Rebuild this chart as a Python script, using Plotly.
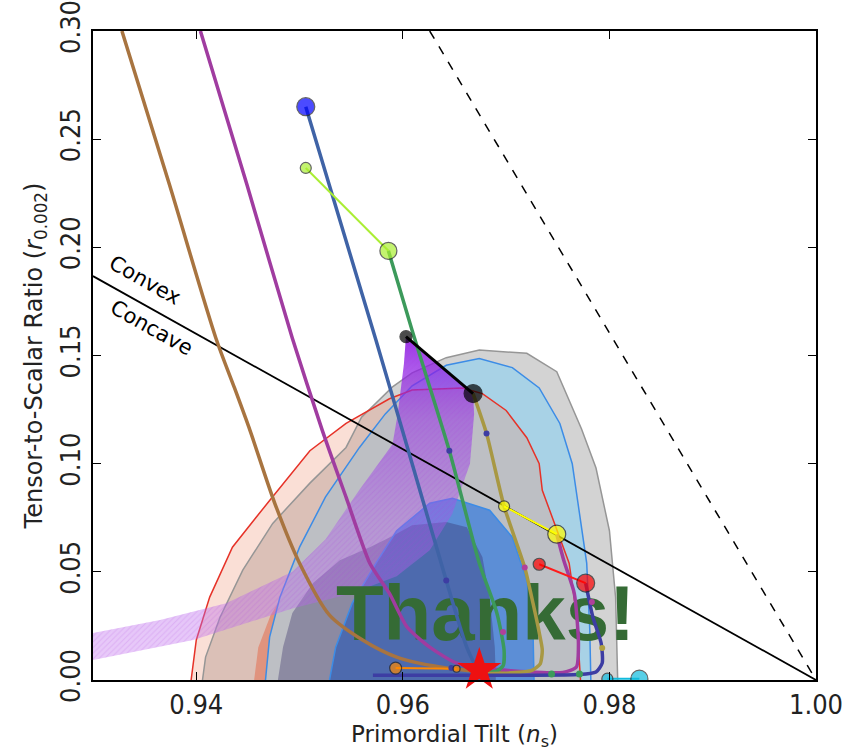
import plotly.graph_objects as go

# ---------------- data ----------------
# Planck-like confidence contours (ns, r)
gray95_ns = [0.9406, 0.9409, 0.9423, 0.9445, 0.9474, 0.9510, 0.9545, 0.9560, 0.9590, 0.9609, 0.9642, 0.9674,
             0.9720, 0.9749, 0.9773, 0.9787, 0.9800, 0.9806, 0.9808]
gray95_r = [0.0, 0.0106, 0.029, 0.0508, 0.0724, 0.091, 0.1075, 0.1215, 0.1355, 0.142, 0.149, 0.1525,
            0.151, 0.1425, 0.116, 0.098, 0.069, 0.038, 0.0]

red68_ns = [0.9456, 0.9460, 0.9472, 0.9495, 0.9530, 0.9570, 0.9610, 0.9650, 0.9690, 0.9720, 0.9740, 0.9750, 0.9755]
red68_r = [0.0, 0.015, 0.030, 0.048, 0.066, 0.080, 0.088, 0.089, 0.082, 0.066, 0.045, 0.022, 0.0]

blue95_ns = [0.9467, 0.9471, 0.9481, 0.9500, 0.9525, 0.9558, 0.9583, 0.9609, 0.9642, 0.9674, 0.9706, 0.9732,
             0.9752, 0.9764, 0.9771, 0.9778, 0.9781, 0.9782]
blue95_r = [0.0, 0.0198, 0.0383, 0.0614, 0.0845, 0.1075, 0.123, 0.136, 0.1455, 0.1486, 0.1444, 0.135,
            0.1186, 0.100, 0.077, 0.054, 0.023, 0.0]

red95_ns = [0.9395, 0.9400, 0.9413, 0.9435, 0.9471, 0.9510, 0.9545, 0.9587, 0.9609, 0.9658, 0.9677, 0.9700,
            0.9720, 0.9732, 0.9735, 0.9745, 0.9761, 0.9768, 0.9771, 0.9772]
red95_r = [0.0, 0.0185, 0.0383, 0.0614, 0.083, 0.106, 0.1186, 0.130, 0.134, 0.135, 0.1324, 0.1246,
           0.112, 0.100, 0.0877, 0.075, 0.054, 0.031, 0.0078, 0.0]

blue68_ns = [0.9529, 0.9535, 0.9551, 0.9574, 0.9594, 0.9626, 0.9648, 0.9684, 0.9706, 0.9720, 0.9726, 0.9727]
blue68_r = [0.0, 0.0152, 0.0355, 0.054, 0.069, 0.0817, 0.084, 0.0785, 0.066, 0.046, 0.023, 0.0]

gray68_ns = [0.9479, 0.9484, 0.9493, 0.9513, 0.9539, 0.9568, 0.9590, 0.9609, 0.9642, 0.9662, 0.9677, 0.9684,
             0.9689, 0.9690]
gray68_r = [0.0, 0.0152, 0.031, 0.0448, 0.0554, 0.0614, 0.0666, 0.0715, 0.073, 0.0706, 0.0568, 0.0383,
            0.0152, 0.0]

# purple (hatched) model band
band_ns = [0.9300, 0.9365, 0.9429, 0.9493, 0.9525, 0.9558, 0.9590, 0.9595, 0.9601, 0.9603,
           0.9668,
           0.9669, 0.9665, 0.9648, 0.9626, 0.9594, 0.9550, 0.9493, 0.9397, 0.9300]
band_r = [0.0217, 0.0277, 0.0355, 0.050, 0.065, 0.088, 0.109, 0.123, 0.146, 0.1587,
          0.1324,
          0.123, 0.100, 0.077, 0.060, 0.048, 0.040, 0.033, 0.0185, 0.0092]

# reference lines
dashed_ns = [0.9626, 1.00]
dashed_r = [0.30, 0.0]
convex_ns = [0.93, 1.00]
convex_r = [0.1867, 0.0]

# model curves
brown_ns = [0.9328, 0.9374, 0.9419, 0.9437, 0.9452, 0.9476, 0.9500, 0.9529, 0.9561, 0.9594, 0.9636, 0.9674, 0.9700]
brown_r = [0.300, 0.229, 0.158, 0.135, 0.1154, 0.0817, 0.054, 0.030, 0.0185, 0.0106, 0.0060, 0.0040, 0.0035]

magenta_ns = [0.9404, 0.9449, 0.9493, 0.9522, 0.9545, 0.9568, 0.9587, 0.9604, 0.9626, 0.9652, 0.9700, 0.9755,
              0.9768, 0.9770, 0.9766, 0.9756, 0.9749]
magenta_r = [0.300, 0.229, 0.158, 0.1154, 0.0845, 0.054, 0.040, 0.0245, 0.0152, 0.0078, 0.0045, 0.0035,
             0.006, 0.017, 0.040, 0.055, 0.0674]

blue_ns = [0.9506, 0.9574, 0.9609, 0.9642, 0.9662, 0.9672, 0.9685]
blue_r = [0.265, 0.157, 0.100, 0.046, 0.015, 0.006, 0.0035]

green_ns = [0.9586, 0.9609, 0.9645, 0.9674, 0.9691, 0.9698, 0.9697, 0.9690, 0.9675]
green_r = [0.1984, 0.1615, 0.106, 0.054, 0.031, 0.0138, 0.0065, 0.0040, 0.0035]

olive_ns = [0.9668, 0.9681, 0.9698, 0.9718, 0.9726, 0.9732, 0.9735, 0.9733, 0.9725, 0.9705, 0.9680]
olive_r = [0.1324, 0.114, 0.0803, 0.052, 0.0355, 0.022, 0.0138, 0.0075, 0.0045, 0.0033, 0.0030]

indigo_ns = [0.9777, 0.9784, 0.9792, 0.9793, 0.9787, 0.9770, 0.9720, 0.9650, 0.9571]
indigo_r = [0.0448, 0.029, 0.017, 0.0078, 0.0037, 0.0025, 0.0022, 0.0022, 0.0022]

# end-point pairs (small dot, big dot)
lime_ns, lime_r = [0.9506, 0.9586], [0.2367, 0.1984]
black_ns, black_r = [0.9603, 0.9668], [0.1587, 0.1324]
yellow_ns, yellow_r = [0.9698, 0.9749], [0.0803, 0.0674]
red_ns, red_r = [0.9732, 0.9777], [0.0535, 0.0448]
orange_ns, orange_r = [0.9593, 0.9652], [0.0055, 0.0052]
cyan_ns, cyan_r = [0.9798, 0.9829], [0.0006, 0.0006]
blue_dot_ns, blue_dot_r = [0.9506], [0.265]

# small tick dots along curves
navy_dot_ns = [0.9681, 0.9645, 0.9642, 0.9647]
navy_dot_r = [0.114, 0.106, 0.046, 0.0055]
mag_dot_ns = [0.9718, 0.9697, 0.9783]
mag_dot_r = [0.052, 0.0222, 0.036]
olive_dot_ns = [0.9793]
olive_dot_r = [0.0148]
green_dot_ns = [0.9744, 0.9771]
green_dot_r = [0.0028, 0.0028]

star_ns, star_r = [0.9674], [0.0046]
thanks_ns, thanks_r = [0.9680], [0.0275]

x_ticks = [0.94, 0.96, 0.98, 1.00]
x_ticktext = ["0.94", "0.96", "0.98", "1.00"]
y_ticks = [0.0, 0.05, 0.10, 0.15, 0.20, 0.25, 0.30]
y_ticktext = ["0.00", "0.05", "0.10", "0.15", "0.20", "0.25", "0.30"]

# ---------------- figure ----------------
fig = go.Figure()


def poly(xs, ys, fill, line=None, lw=1.5, **kw):
    fig.add_trace(go.Scatter(x=xs + [xs[0]], y=ys + [ys[0]], mode="lines", fill="toself",
                             fillcolor=fill,
                             line=dict(color=line if line else "rgba(0,0,0,0)", width=lw if line else 0),
                             hoverinfo="skip", showlegend=False, **kw))


def curve(xs, ys, color, width, **kw):
    fig.add_trace(go.Scatter(x=xs, y=ys, mode="lines", line=dict(color=color, width=width, **kw),
                             hoverinfo="skip", showlegend=False))


def dots(xs, ys, color, sizes, lw=1.2, lc="#222222", clip=True):
    fig.add_trace(go.Scatter(x=xs, y=ys, mode="markers", cliponaxis=clip,
                             marker=dict(color=color, size=sizes, line=dict(color=lc, width=lw)),
                             hoverinfo="skip", showlegend=False))


# contours
poly(gray95_ns, gray95_r, "rgb(211,211,211)")
poly(red68_ns, red68_r, "rgb(218,146,130)")
poly(blue95_ns, blue95_r, "rgb(168,210,230)")
poly(red95_ns, red95_r, "rgba(240,150,120,0.30)")
poly(blue68_ns, blue68_r, "rgb(92,142,214)")
poly(gray68_ns, gray68_r, "rgba(50,40,100,0.35)")
# contour outlines
curve(gray95_ns, gray95_r, "rgb(150,150,150)", 1.5)
curve(blue95_ns, blue95_r, "rgb(60,140,230)", 1.5)
curve(blue68_ns, blue68_r, "rgb(60,140,230)", 1.5)
curve(red95_ns, red95_r, "rgb(230,50,40)", 1.5)

# purple band with gradient and hatching
fig.add_trace(go.Scatter(x=band_ns + [band_ns[0]], y=band_r + [band_r[0]], mode="lines", fill="toself",
                         line=dict(width=0, color="rgba(0,0,0,0)"),
                         fillgradient=dict(type="vertical", start=0.0, stop=0.16,
                                           colorscale=[[0, "rgba(200,120,240,0.38)"],
                                                       [0.45, "rgba(170,90,235,0.40)"],
                                                       [0.75, "rgba(150,50,230,0.55)"],
                                                       [1, "rgba(135,10,225,0.85)"]]),
                         hoverinfo="skip", showlegend=False))
fig.add_trace(go.Scatter(x=band_ns + [band_ns[0]], y=band_r + [band_r[0]], mode="lines", fill="toself",
                         line=dict(width=0, color="rgba(0,0,0,0)"),
                         fillcolor="rgba(0,0,0,0)",
                         fillpattern=dict(shape="/", fgcolor="rgba(170,60,220,0.35)",
                                          bgcolor="rgba(0,0,0,0)", size=4, solidity=0.25),
                         hoverinfo="skip", showlegend=False))

# reference lines
curve(dashed_ns, dashed_r, "black", 1.5, dash="dash")
curve(convex_ns, convex_r, "black", 1.8)

# Thanks! text (below model curves)
fig.add_trace(go.Scatter(x=thanks_ns, y=thanks_r, mode="text", text=["Thanks!"],
                         textfont=dict(family="Liberation Sans, Arial, sans-serif", size=78,
                                       color="#356b35", weight="bold"),
                         textposition="middle center", hoverinfo="skip", showlegend=False))

# model curves
curve(brown_ns, brown_r, "#a87440", 3.5, shape="spline", smoothing=0.8)
curve(magenta_ns, magenta_r, "#a03ca0", 3.5, shape="spline", smoothing=0.6)
curve(blue_ns, blue_r, "#3f63a6", 3.5, shape="spline", smoothing=0.6)
curve(green_ns, green_r, "#3c9a5b", 3.5, shape="spline", smoothing=0.6)
curve(olive_ns, olive_r, "#a89843", 3.5, shape="spline", smoothing=0.6)
curve(indigo_ns, indigo_r, "#3d3da3", 3.5, shape="spline", smoothing=0.6)

curve(lime_ns, lime_r, "#aaee33", 2)
curve(black_ns, black_r, "black", 3)
curve(yellow_ns, yellow_r, "#ffff00", 2)
curve(red_ns, red_r, "#ff1a1a", 2)
curve(orange_ns, orange_r, "#ff8800", 2)
curve(cyan_ns, cyan_r, "#11bbdd", 2)

# small dots along curves
dots(navy_dot_ns, navy_dot_r, "#3d3da3", 6, lw=0)
dots(mag_dot_ns, mag_dot_r, "#b0409a", 6, lw=0)
dots(olive_dot_ns, olive_dot_r, "#b0a040", 6, lw=0)
dots(green_dot_ns, green_dot_r, "#3c9a5b", 7, lw=0)

# end dots
dots(lime_ns, lime_r, "#aaee33", [11, 17])
dots(black_ns, black_r, "#000000", [12, 18], lc="#000000")
dots(yellow_ns, yellow_r, "#ffff00", [11, 18])
dots(red_ns, red_r, "#ff0000", [12, 18])
dots(orange_ns, orange_r, "#ff8800", [12, 7])
dots(cyan_ns, cyan_r, "#11bbdd", [11, 17])
dots(blue_dot_ns, blue_dot_r, "#0000ff", [18])

# star
fig.add_trace(go.Scatter(x=star_ns, y=star_r, mode="markers", cliponaxis=False,
                         marker=dict(symbol="star", size=33, color="#ee1111", line=dict(width=0)),
                         hoverinfo="skip", showlegend=False))

# Convex / Concave labels
fig.add_annotation(x=0.9350, y=0.1850, text="Convex", showarrow=False, textangle=29.3,
                   font=dict(family="DejaVu Sans, sans-serif", size=21, color="black"))
fig.add_annotation(x=0.9357, y=0.1625, text="Concave", showarrow=False, textangle=29.3,
                   font=dict(family="DejaVu Sans, sans-serif", size=21, color="black"))

axis_common = dict(showline=True, linecolor="black", linewidth=1.5, mirror="ticks", ticks="inside",
                   ticklen=8, tickwidth=1.2, tickcolor="black", showgrid=False, zeroline=False,
                   automargin=False, ticklabeloverflow="allow",
                   tickfont=dict(family="Liberation Sans Narrow, DejaVu Sans Condensed, sans-serif",
                                 size=27, color="#222222"))

fig.update_layout(
    width=853, height=751,
    margin=dict(l=93, r=37, t=31, b=71),
    paper_bgcolor="white", plot_bgcolor="white",
    showlegend=False,
    xaxis=dict(range=[0.93, 1.00], tickvals=x_ticks, ticktext=x_ticktext,
               title=dict(text="Primordial Tilt (<i>n</i><sub>s</sub>)", standoff=8,
                          font=dict(family="DejaVu Sans, sans-serif", size=23, color="#222222")),
               **axis_common),
    yaxis=dict(range=[0.0, 0.30], tickvals=y_ticks, ticktext=y_ticktext, tickangle=-90,
               title=dict(text="Tensor-to-Scalar Ratio (<i>r</i><sub>0.002</sub>)", standoff=6,
                          font=dict(family="DejaVu Sans, sans-serif", size=24, color="#222222")),
               **axis_common),
)

fig.write_html("out.html")
